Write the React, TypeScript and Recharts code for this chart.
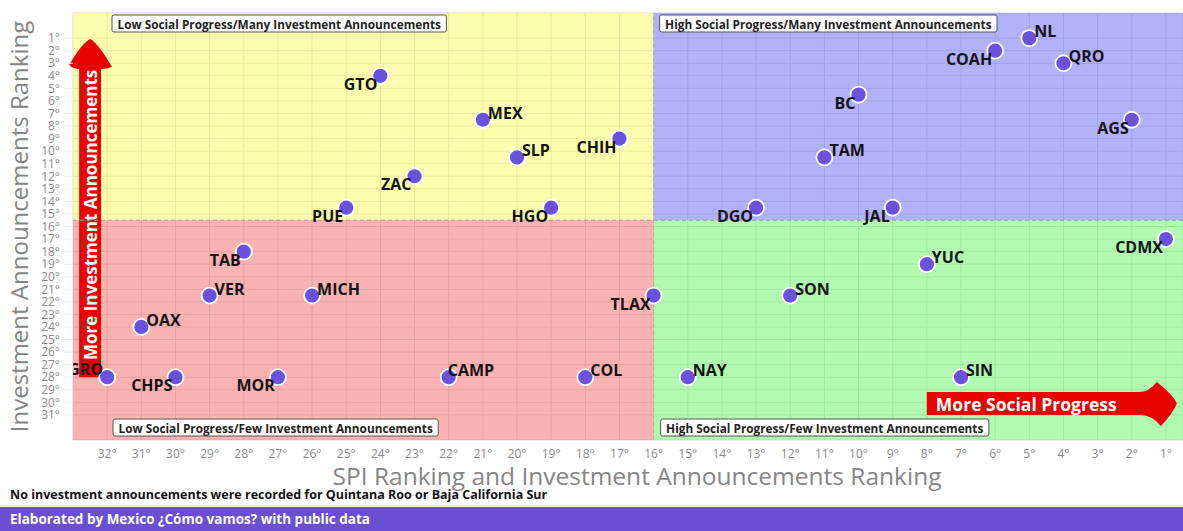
import React from 'react';
import {
  ScatterChart,
  Scatter,
  XAxis,
  YAxis,
  CartesianGrid,
  ReferenceArea,
  ReferenceLine,
} from 'recharts';

// ---- data ----
const states = ['NL', 'COAH', 'QRO', 'GTO', 'BC', 'MEX', 'AGS', 'CHIH', 'SLP', 'TAM', 'ZAC', 'PUE', 'HGO', 'DGO', 'JAL', 'CDMX', 'TAB', 'YUC', 'VER', 'MICH', 'TLAX', 'SON', 'OAX', 'GRO', 'CHPS', 'MOR', 'CAMP', 'COL', 'NAY', 'SIN'];
const spiRanking = [5, 6, 4, 24, 10, 21, 2, 17, 20, 11, 23, 25, 19, 13, 9, 1, 28, 8, 29, 26, 16, 12, 31, 32, 30, 27, 22, 18, 15, 7];
const investmentRanking = [1, 2, 3, 4, 5.5, 7.5, 7.5, 9, 10.5, 10.5, 12, 14.5, 14.5, 14.5, 14.5, 17, 18, 19, 21.5, 21.5, 21.5, 21.5, 24, 28, 28, 28, 28, 28, 28, 28];
const xTicks = [1, 2, 3, 4, 5, 6, 7, 8, 9, 10, 11, 12, 13, 14, 15, 16, 17, 18, 19, 20, 21, 22, 23, 24, 25, 26, 27, 28, 29, 30, 31, 32];
const yTicks = [1, 2, 3, 4, 5, 6, 7, 8, 9, 10, 11, 12, 13, 14, 15, 16, 17, 18, 19, 20, 21, 22, 23, 24, 25, 26, 27, 28, 29, 30, 31];
const quadrantTexts = [
  'Low Social Progress/Many Investment Announcements',
  'High Social Progress/Many Investment Announcements',
  'Low Social Progress/Few Investment Announcements',
  'High Social Progress/Few Investment Announcements',
];

// label placement style per state (ru = right/up, ld = left/down, lu = left/up, cu = centre/up)
const labelSide: Record<string, string> = {
  NL: 'ru', QRO: 'ru', MEX: 'ru', SLP: 'ru', TAM: 'ru', YUC: 'ru', VER: 'ru', MICH: 'ru', SON: 'ru', OAX: 'ru', COL: 'ru', NAY: 'ru', SIN: 'ru',
  CAMP: 'cu', GRO: 'lu',
};

const data = states.map((s, i) => ({ name: s, spi: spiRanking[i], inv: investmentRanking[i] }));

const FONT = '"Open Sans", "DejaVu Sans", sans-serif';
const RED = '#ea0000';
const QFS = 11.8;

const measure = (text: string, font: string, fallback: number) => {
  try {
    const c = document.createElement('canvas').getContext('2d');
    if (!c) return fallback;
    c.font = font;
    return c.measureText(text).width;
  } catch (e) {
    return fallback;
  }
};

const quadLabel = (text: string, dx: number, atBottom: boolean) => (props: any) => {
  const vb = props.viewBox || { x: 0, y: 0, width: 0, height: 0 };
  const w = measure(text, `bold ${QFS}px ${FONT}`, text.length * 6.9) + 11;
  const h = 17;
  const x = vb.x + dx;
  const y = atBottom ? vb.y + vb.height - 4 - h : vb.y + 2;
  return (
    <g>
      <rect x={x} y={y} width={w} height={h} fill="#ffffff" stroke="#555" strokeWidth={1} rx={2} />
      <text x={x + 5.5} y={y + h / 2 + 0.5} dominantBaseline="central" fontFamily={FONT} fontWeight={700} fontSize={QFS} fill="#222">
        {text}
      </text>
    </g>
  );
};

const VArrow = (p: any) => {
  const { x, y, width, height } = p;
  const l = x;
  const r = x + width;
  const cx = x + width / 2;
  const top = y;
  const bot = y + height;
  const d = `M${l},${bot} L${l},${top + 30} Q${l - 6},${top + 30} ${l - 10},${top + 26} Q${cx - 8},${top + 4} ${cx},${top} Q${cx + 8},${top + 4} ${r + 11},${top + 28} Q${r + 6},${top + 30} ${r},${top + 30} L${r},${bot} Z`;
  const ty = top + height * 0.52;
  return (
    <g>
      <path d={d} fill={RED} />
      <text
        x={cx}
        y={ty}
        transform={`rotate(-90 ${cx} ${ty})`}
        textAnchor="middle"
        dominantBaseline="central"
        fontFamily={FONT}
        fontWeight={700}
        fontSize={17}
        fill="#ffffff"
      >
        More Investment Announcements
      </text>
    </g>
  );
};

const HArrow = (p: any) => {
  const { x, y, width, height } = p;
  const l = x;
  const r = x + width;
  const t = y;
  const b = y + height;
  const cy = (t + b) / 2;
  const d = `M${l},${t} L${r - 38},${t} Q${r - 28},${t} ${r - 20},${t - 10} Q${r - 4},${cy - 9} ${r},${cy} Q${r - 4},${cy + 10} ${r - 16},${b + 11} Q${r - 25},${b} ${r - 36},${b} L${l},${b} Z`;
  return (
    <g>
      <path d={d} fill={RED} />
      <text x={l + 9} y={cy + 0.5} dominantBaseline="central" fontFamily={FONT} fontWeight={700} fontSize={17.5} fill="#ffffff">
        More Social Progress
      </text>
    </g>
  );
};

const PointMark = (props: any) => {
  const { cx, cy, payload } = props;
  if (cx == null || cy == null) return <g />;
  const name = payload?.name ?? '';
  const side = labelSide[name] || 'ld';
  let tx = cx - 3;
  let ty = cy + 8;
  let anchor: 'start' | 'end' = 'end';
  if (side === 'ru') {
    tx = cx + 5;
    ty = cy - 7;
    anchor = 'start';
  } else if (side === 'lu') {
    tx = cx - 4;
    ty = cy - 8;
  } else if (side === 'cu') {
    tx = cx - 1;
    ty = cy - 7;
    anchor = 'start';
  }
  return (
    <g>
      <circle cx={cx} cy={cy} r={8} fill="#6a52dc" stroke="#ffffff" strokeWidth={1.8} />
      <text x={tx} y={ty} textAnchor={anchor} dominantBaseline="central" fontFamily={FONT} fontWeight={700} fontSize={16} fill="#141414">
        {name}
      </text>
    </g>
  );
};

export default function App() {
  return (
    <div style={{ position: 'absolute', left: 0, top: 0, width: 1183, height: 531, background: '#ffffff', overflow: 'hidden', fontFamily: FONT }}>
      <ScatterChart width={1183} height={500} margin={{ top: 13, right: 0, bottom: 0, left: 0 }}>
        <CartesianGrid stroke="#d9d9d9" strokeWidth={1} />
        <XAxis
          type="number"
          dataKey="spi"
          domain={[0.5, 33]}
          allowDataOverflow
          reversed
          ticks={xTicks}
          interval={0}
          tickFormatter={(v: number) => `${v}°`}
          axisLine={false}
          tickLine={false}
          tickSize={0}
          tickMargin={9}
          height={60}
          tick={{ fill: '#8a8a8a', fontSize: 12, fontFamily: FONT }}
          label={(p: any) => {
            const vb = p.viewBox || { x: 0, y: 0, width: 0 };
            return (
              <text x={vb.x + vb.width / 2 + 9} y={vb.y + 35} textAnchor="middle" dominantBaseline="central" fontFamily={FONT} fontSize={24.5} fill="#858585">
                SPI Ranking and Investment Announcements Ranking
              </text>
            );
          }}
        />
        <YAxis
          type="number"
          dataKey="inv"
          domain={[-1, 33]}
          allowDataOverflow
          reversed
          ticks={yTicks}
          interval={0}
          tickFormatter={(v: number) => `${v}°`}
          axisLine={false}
          tickLine={{ stroke: '#ececec' }}
          tickSize={10}
          tickMargin={3}
          width={73}
          tick={{ fill: '#8a8a8a', fontSize: 12, fontFamily: FONT }}
          label={(p: any) => {
            const vb = p.viewBox || { x: 0, y: 0, height: 0 };
            const cx = vb.x + 18;
            const cy = vb.y + vb.height / 2;
            return (
              <text x={cx} y={cy} transform={`rotate(-90 ${cx} ${cy})`} textAnchor="middle" dominantBaseline="central" fontFamily={FONT} fontSize={24} fill="#858585">
                Investment Announcements Ranking
              </text>
            );
          }}
        />
        <ReferenceArea x1={16} x2={33} y1={-1} y2={15.5} fill="#fbfb61" fillOpacity={0.5} stroke="none" label={quadLabel(quadrantTexts[0], 39, false)} />
        <ReferenceArea x1={0.5} x2={16} y1={-1} y2={15.5} fill="#6565f5" fillOpacity={0.5} stroke="none" label={quadLabel(quadrantTexts[1], 6, false)} />
        <ReferenceArea x1={16} x2={33} y1={15.5} y2={33} fill="#f56565" fillOpacity={0.5} stroke="none" label={quadLabel(quadrantTexts[2], 40, true)} />
        <ReferenceArea x1={0.5} x2={16} y1={15.5} y2={33} fill="#65f565" fillOpacity={0.5} stroke="none" label={quadLabel(quadrantTexts[3], 7, true)} />
        <ReferenceLine y={15.5} stroke="#9a9a9a" strokeDasharray="4 3" strokeWidth={1} />
        <ReferenceLine x={16} stroke="#b0b0b0" strokeDasharray="4 3" strokeWidth={1} />
        <ReferenceArea x1={32.82} x2={32.18} y1={1.07} y2={28} shape={VArrow} />
        <ReferenceArea x1={8} x2={0.68} y1={29.18} y2={31} shape={HArrow} />
        <Scatter data={data} isAnimationActive={false} shape={(p: any) => <PointMark {...p} />} />
      </ScatterChart>
      <div style={{ position: 'absolute', left: 10, top: 486, fontSize: 12.5, fontWeight: 700, color: '#111', lineHeight: '18px', whiteSpace: 'nowrap' }}>
        No investment announcements were recorded for Quintana Roo or Baja California Sur
      </div>
      <div style={{ position: 'absolute', left: 0, top: 505, width: 1183, height: 1, background: '#d8d8e8' }} />
      <div style={{ position: 'absolute', left: 0, top: 507, width: 1183, height: 24, background: '#6a4fd2' }}>
        <div style={{ position: 'absolute', left: 10, top: 3, fontSize: 13.5, fontWeight: 700, color: '#ffffff', lineHeight: '18px', whiteSpace: 'nowrap' }}>
          Elaborated by Mexico ¿Cómo vamos? with public data
        </div>
      </div>
    </div>
  );
}
